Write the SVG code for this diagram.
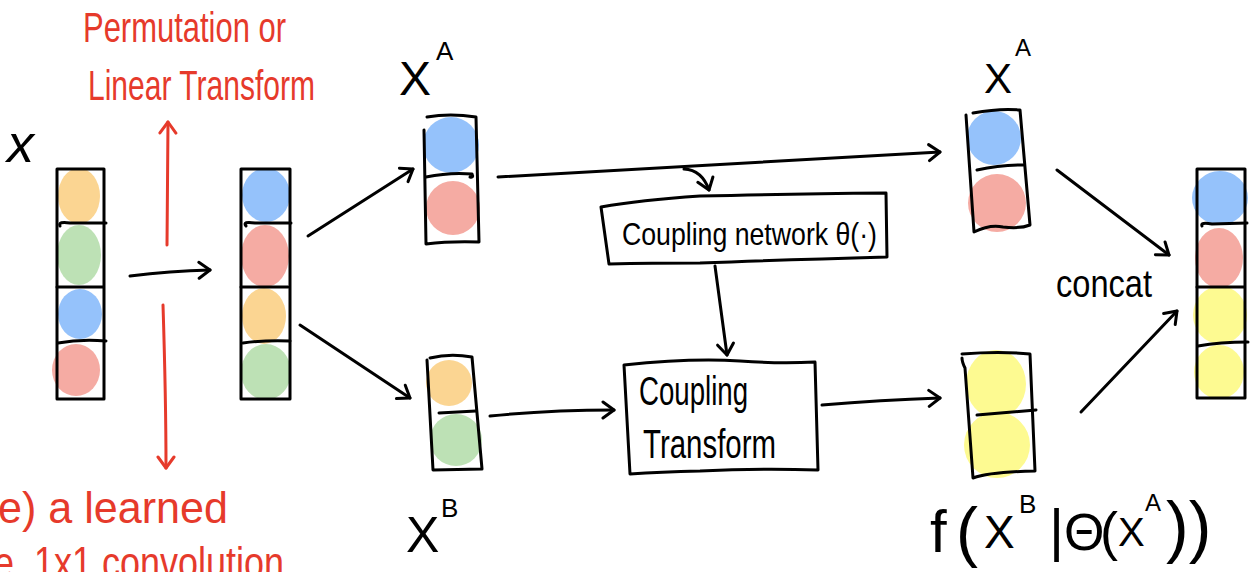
<svg xmlns="http://www.w3.org/2000/svg" width="1257" height="572" viewBox="0 0 1257 572">
  <style>
    .ink { fill: none; stroke: #000; stroke-width: 3; stroke-linecap: round; stroke-linejoin: round; }
    .red { fill: none; stroke: #e63a2b; stroke-width: 3; stroke-linecap: round; stroke-linejoin: round; }
    .lbl { font-family: "Liberation Sans", "DejaVu Sans", sans-serif; fill: #000; }
    .note { font-family: "Liberation Sans", "DejaVu Sans", sans-serif; fill: #e63a2b; }
    .orange { fill: #fbd592; }
    .green { fill: #bde1b5; }
    .blue { fill: #95c2fb; }
    .pink { fill: #f5aba3; }
    .yellow { fill: #fdfa91; }
  </style>
  <defs>
    <marker id="head" viewBox="-14 -10 18 20" markerWidth="18" markerHeight="20" refX="0" refY="0" orient="auto" markerUnits="userSpaceOnUse">
      <path d="M-11,-8 L0,0 L-11,8" fill="none" stroke="#000" stroke-width="3" stroke-linecap="round" stroke-linejoin="round"/>
    </marker>
    <marker id="headRed" viewBox="-14 -10 18 20" markerWidth="18" markerHeight="20" refX="0" refY="0" orient="auto" markerUnits="userSpaceOnUse">
      <path d="M-11,-8 L0,0 L-11,8" fill="none" stroke="#e63a2b" stroke-width="3" stroke-linecap="round" stroke-linejoin="round"/>
    </marker>
  </defs>

  <rect width="1257" height="572" fill="#fff"/>

  <!-- input vector x -->
  <g id="col-x">
    <ellipse class="orange" cx="79" cy="196" rx="21" ry="28"/>
    <ellipse class="green" cx="79" cy="255" rx="22" ry="30"/>
    <ellipse class="blue" cx="80" cy="314" rx="22" ry="25"/>
    <ellipse class="pink" cx="76" cy="370" rx="24" ry="26"/>
    <rect class="ink" x="57" y="169" width="47" height="230"/>
    <path class="ink" d="M60,226 Q58,221 70,223 L106,223"/>
    <path class="ink" d="M57,287 L103,287"/>
    <path class="ink" d="M58,343 Q80,339 106,341"/>
    <text class="lbl" x="7" y="162" font-size="54" font-style="italic">x</text>
  </g>

  <!-- permuted vector -->
  <g id="col-perm">
    <ellipse class="blue" cx="266" cy="195" rx="24" ry="27"/>
    <ellipse class="pink" cx="265" cy="256" rx="24" ry="31"/>
    <ellipse class="orange" cx="264" cy="316" rx="22" ry="28"/>
    <ellipse class="green" cx="266" cy="372" rx="25" ry="28"/>
    <rect class="ink" x="241" y="169" width="49" height="230"/>
    <path class="ink" d="M246,226 Q242,221 255,223 L291,223"/>
    <path class="ink" d="M241,287 L288,287"/>
    <path class="ink" d="M243,343 Q265,340 290,341"/>
  </g>

  <!-- split half x^A -->
  <g id="col-xa">
    <circle class="blue" cx="451" cy="145" r="28"/>
    <circle class="pink" cx="453" cy="208" r="27"/>
    <path class="ink" d="M424,130 L426,244 Q450,241 479,242 L476,117 Q450,113 427,117"/>
    <path class="ink" d="M426,177 Q450,172 472,174 Q474,178 470,177"/>
    <text class="lbl" x="399" y="95" font-size="48">X</text>
    <text class="lbl" x="436" y="60" font-size="26">A</text>
  </g>

  <!-- split half x^B -->
  <g id="col-xb">
    <circle class="orange" cx="449" cy="383" r="23"/>
    <circle class="green" cx="456" cy="440" r="26"/>
    <path class="ink" d="M427,360 L433,470 L482,469 L472,357 Q450,353 430,358"/>
    <path class="ink" d="M439,413 L476,411"/>
    <text class="lbl" x="406" y="552" font-size="50">X</text>
    <text class="lbl" x="441" y="517" font-size="26">B</text>
  </g>

  <!-- coupling network box -->
  <g id="net">
    <path class="ink" d="M601,207 Q640,200 700,196 Q780,194 886,193 L887,257 Q780,260 700,263 Q650,263 609,264 Z"/>
    <text class="lbl" x="622" y="245" font-size="32" textLength="255" lengthAdjust="spacingAndGlyphs">Coupling network θ(·)</text>
  </g>

  <!-- coupling transform box -->
  <g id="ct">
    <path class="ink" d="M624,365 Q690,358 740,361 Q780,364 815,362 L818,470 Q760,468 700,471 Q660,472 630,474 Z"/>
    <text class="lbl" x="639" y="405" font-size="40" textLength="109" lengthAdjust="spacingAndGlyphs">Coupling</text>
    <text class="lbl" x="643" y="458" font-size="40" textLength="133" lengthAdjust="spacingAndGlyphs">Transform</text>
  </g>

  <!-- output half x^A (unchanged) -->
  <g id="col-xa-out">
    <circle class="blue" cx="994" cy="138" r="27"/>
    <circle class="pink" cx="997" cy="203" r="29"/>
    <path class="ink" d="M966,115 L974,232 Q990,224 1003,227 Q1020,229 1030,225 L1020,110 Q1000,108 973,113"/>
    <path class="ink" d="M977,170 Q1000,165 1023,165"/>
    <text class="lbl" x="984" y="93" font-size="42">X</text>
    <text class="lbl" x="1015" y="56" font-size="24">A</text>
  </g>

  <!-- output half f(x^B | θ(x^A)) -->
  <g id="col-fb">
    <ellipse class="yellow" cx="996" cy="384" rx="30" ry="34"/>
    <ellipse class="yellow" cx="997" cy="445" rx="33" ry="33"/>
    <path class="ink" d="M962,358 Q962,362 965,368 L973,478 Q990,472 1035,471 L1030,354 Q1000,351 962,354"/>
    <path class="ink" d="M977,415 L1036,410"/>
    <text class="lbl" font-size="60">
      <tspan x="930" y="552">f</tspan>
      <tspan x="956" y="554" font-size="66">(</tspan>
      <tspan x="984" y="548" font-size="46">X</tspan>
      <tspan x="1019" y="513" font-size="26">B</tspan>
      <tspan x="1049" y="550" font-size="58">|</tspan>
      <tspan x="1064" y="550" font-size="52">Θ</tspan>
      <tspan x="1100" y="550" font-size="54">(</tspan>
      <tspan x="1118" y="546" font-size="40">X</tspan>
      <tspan x="1145" y="511" font-size="24">A</tspan>
      <tspan x="1166" y="550" font-size="68">))</tspan>
    </text>
  </g>

  <!-- concatenated output -->
  <g id="col-out">
    <ellipse class="blue" cx="1220" cy="198" rx="28" ry="27"/>
    <ellipse class="pink" cx="1219" cy="258" rx="24" ry="30"/>
    <ellipse class="yellow" cx="1220" cy="315" rx="27" ry="29"/>
    <ellipse class="yellow" cx="1219" cy="372" rx="25" ry="27"/>
    <rect class="ink" x="1197" y="169" width="48" height="229"/>
    <path class="ink" d="M1202,226 Q1200,222 1212,224 L1247,223"/>
    <path class="ink" d="M1197,287 L1244,287"/>
    <path class="ink" d="M1198,346 Q1220,342 1248,342"/>
    <text class="lbl" x="1056" y="297" font-size="38" textLength="96" lengthAdjust="spacingAndGlyphs">concat</text>
  </g>

  <!-- red annotation -->
  <g id="note">
    <text class="note" x="83" y="42" font-size="42" textLength="203" lengthAdjust="spacingAndGlyphs">Permutation or</text>
    <text class="note" x="88" y="100" font-size="42" textLength="227" lengthAdjust="spacingAndGlyphs">Linear Transform</text>
    <text class="note" x="-2" y="523" font-size="44" textLength="230" lengthAdjust="spacingAndGlyphs">e) a learned</text>
    <text class="note" x="-6" y="578" font-size="44" textLength="290" lengthAdjust="spacingAndGlyphs">e. 1x1 convolution</text>
  </g>

  <!-- connectors -->
  <g id="connectors">
    <path class="red" d="M167,245 L168,122" marker-end="url(#headRed)"/>
    <path class="red" d="M163,305 Q166,400 166,468" marker-end="url(#headRed)"/>
    <path class="ink" d="M130,276 Q170,271 210,270" marker-end="url(#head)"/>
    <path class="ink" d="M308,236 L413,169" marker-end="url(#head)"/>
    <path class="ink" d="M300,325 L410,398" marker-end="url(#head)"/>
    <path class="ink" d="M498,177 L940,152" marker-end="url(#head)"/>
    <path class="ink" d="M684,169 Q702,170 709,190" marker-end="url(#head)"/>
    <path class="ink" d="M715,266 L727,355" marker-end="url(#head)"/>
    <path class="ink" d="M490,416 Q550,410 614,410" marker-end="url(#head)"/>
    <path class="ink" d="M822,405 Q880,400 940,398" marker-end="url(#head)"/>
    <path class="ink" d="M1057,170 L1169,255" marker-end="url(#head)"/>
    <path class="ink" d="M1081,412 L1177,311" marker-end="url(#head)"/>
  </g>
</svg>
